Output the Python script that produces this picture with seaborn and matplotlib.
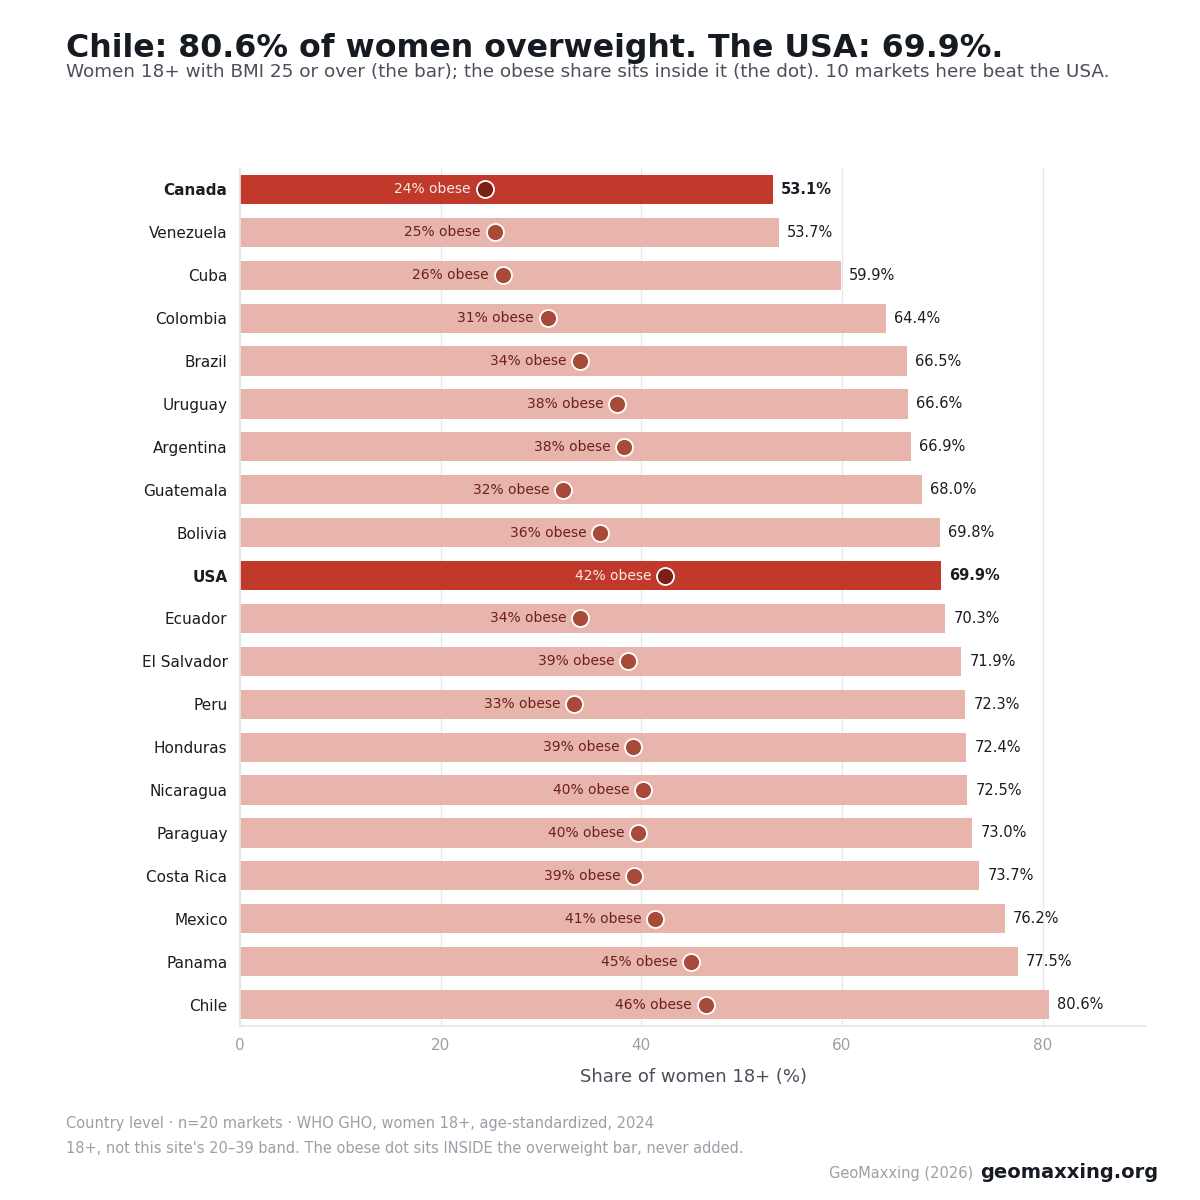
import matplotlib
matplotlib.use("Agg")
import matplotlib.pyplot as plt
import seaborn as sns
import pandas as pd

# data (women 18+, %)
countries = ["Canada", "Venezuela", "Cuba", "Colombia", "Brazil", "Uruguay",
             "Argentina", "Guatemala", "Bolivia", "USA", "Ecuador", "El Salvador",
             "Peru", "Honduras", "Nicaragua", "Paraguay", "Costa Rica", "Mexico",
             "Panama", "Chile"]
overweight = [53.1, 53.7, 59.9, 64.4, 66.5, 66.6, 66.9, 68.0, 69.8, 69.9,
              70.3, 71.9, 72.3, 72.4, 72.5, 73.0, 73.7, 76.2, 77.5, 80.6]
obese = [24.4, 25.4, 26.2, 30.7, 33.9, 37.6, 38.3, 32.2, 35.9, 42.4,
         33.9, 38.7, 33.3, 39.2, 40.2, 39.7, 39.3, 41.4, 45.0, 46.4]
highlight = ["Canada", "USA"]

df = pd.DataFrame({"country": countries, "overweight": overweight, "obese": obese})
df["hl"] = df["country"].isin(highlight)

sns.set_theme(style="white")
plt.rcParams["font.family"] = ["DejaVu Sans"]

fig = plt.figure(figsize=(12, 12), dpi=100)
ax = fig.add_axes([0.2, 0.145, 0.755, 0.715])

pal = {c: ("#c0392b" if c in highlight else "#e8b5ac") for c in countries}
sns.barplot(data=df, y="country", x="overweight", hue="country", palette=pal,
            order=countries, orient="h", width=0.68, legend=False,
            saturation=1, linewidth=0, ax=ax, zorder=2)

# obese dots
for hl, dot_col in [(False, "#a84a3a"), (True, "#7b1f17")]:
    sub = df[df["hl"] == hl]
    sns.scatterplot(data=sub, x="obese", y="country", color=dot_col, s=150,
                    edgecolor="white", linewidth=1.3, ax=ax, zorder=4)

for i, row in df.iterrows():
    txt_col = "#fbe9e6" if row["hl"] else "#6b2118"
    ax.text(row["obese"] - 1.4, i, f"{row['obese']:.0f}% obese", ha="right",
            va="center", fontsize=10, color=txt_col, zorder=5)
    ax.text(row["overweight"] + 0.8, i, f"{row['overweight']:.1f}%", ha="left",
            va="center", fontsize=10.5, color="#1a1d23",
            fontweight="bold" if row["hl"] else "normal", zorder=5)

ax.set_xlim(0, 90.3)
ax.set_ylim(19.5, -0.5)
ax.set_xticks([0, 20, 40, 60, 80])
ax.grid(axis="x", color="#e6e8eb", linewidth=1, zorder=0)
ax.set_axisbelow(True)
for s in ["top", "right"]:
    ax.spines[s].set_visible(False)
for s in ["left", "bottom"]:
    ax.spines[s].set_color("#e3e6ea")
    ax.spines[s].set_linewidth(1.2)
ax.tick_params(axis="x", colors="#9aa0a8", labelsize=11, length=5, width=1,
               color="#d0d4d9")
ax.tick_params(axis="y", labelsize=11, length=5, width=1, color="#b0b5bb",
               labelcolor="#1a1d23", pad=4)
ax.tick_params(axis="x", labelcolor="#9aa0a8")
for lab in ax.get_yticklabels():
    if lab.get_text() in highlight:
        lab.set_fontweight("bold")
ax.set_ylabel("")
ax.set_xlabel("Share of women 18+ (%)", fontsize=13, color="#4a4f5a", labelpad=11)

fig.text(0.055, 0.96, "Chile: 80.6% of women overweight. The USA: 69.9%.",
         fontsize=22.8, fontweight="bold", color="#161b22", va="center")
fig.text(0.055, 0.94, "Women 18+ with BMI 25 or over (the bar); the obese share sits inside it "
         "(the dot). 10 markets here beat the USA.", fontsize=13.25, color="#4a4f5a",
         va="center")
fig.text(0.055, 0.064, "Country level · n=20 markets · WHO GHO, women 18+, age-standardized, 2024",
         fontsize=10.5, color="#9aa0a8", va="center")
fig.text(0.055, 0.043, "18+, not this site's 20–39 band. The obese dot sits INSIDE the "
         "overweight bar, never added.", fontsize=10.5, color="#9aa0a8", va="center")
fig.text(0.811, 0.022, "GeoMaxxing (2026)", fontsize=10.5, color="#9aa0a8",
         va="center", ha="right")
fig.text(0.965, 0.023, "geomaxxing.org", fontsize=14, fontweight="bold",
         color="#161b22", va="center", ha="right")

fig.savefig("out.png", dpi=100, facecolor="white")
